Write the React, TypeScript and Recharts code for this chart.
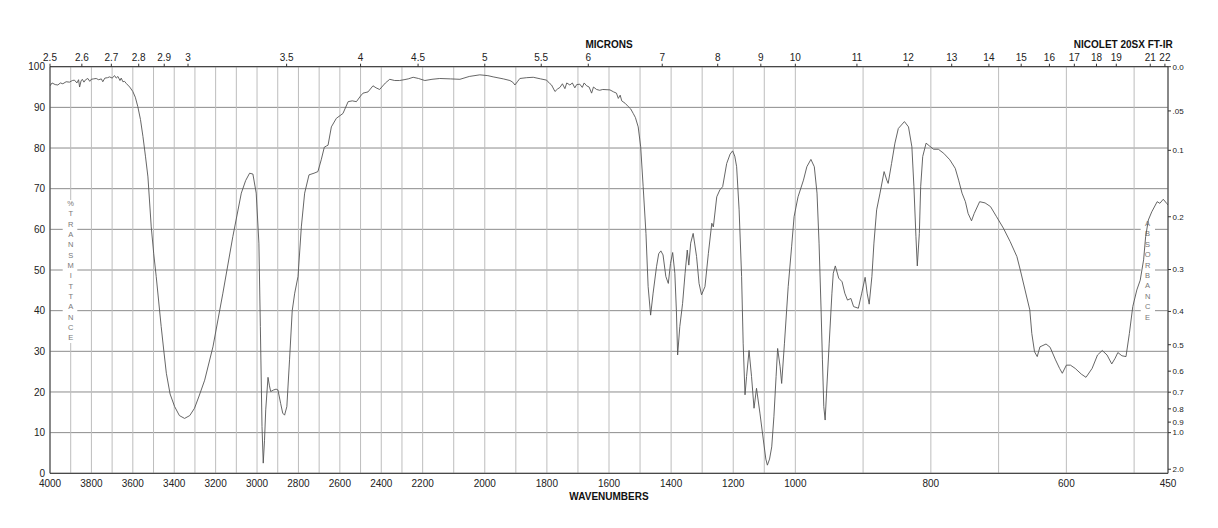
import React from 'react';
import { LineChart, Line, XAxis, YAxis, CartesianGrid, Customized } from 'recharts';

// Spectrum: wavenumber (cm-1) and % transmittance
const WAVENUMBERS = [
  4000, 3990, 3975, 3962, 3950, 3938, 3922, 3906, 3892, 3882, 3870, 3862, 3857, 3850, 3844, 3836, 3828, 3817, 3808, 3801,
  3790, 3777, 3765, 3752, 3745, 3735, 3722, 3712, 3700, 3688, 3680, 3672, 3662, 3656, 3648, 3640, 3632, 3615, 3600, 3588,
  3576, 3563, 3551, 3539, 3527, 3511, 3499, 3487, 3463, 3450, 3438, 3420, 3398, 3375, 3350, 3325, 3302, 3280, 3253, 3213,
  3165, 3117, 3076, 3055, 3036, 3020, 3004, 2991, 2984, 2976, 2970, 2964, 2958, 2947, 2940, 2934, 2920, 2908, 2899, 2886,
  2876, 2867, 2856, 2843, 2830, 2818, 2802, 2786, 2770, 2749, 2725, 2706, 2690, 2675, 2665, 2657, 2641, 2617, 2585, 2560,
  2540, 2520, 2500, 2488, 2464, 2440, 2425, 2408, 2380, 2359, 2335, 2311, 2290, 2270, 2246, 2220, 2193, 2170, 2145, 2110,
  2080, 2050, 2016, 1990, 1973, 1940, 1919, 1910, 1903, 1895, 1887, 1865, 1844, 1820, 1801, 1790, 1785, 1774, 1766, 1758,
  1750, 1742, 1736, 1726, 1718, 1710, 1704, 1694, 1686, 1680, 1672, 1664, 1656, 1650, 1640, 1630, 1620, 1597, 1585, 1576,
  1570, 1564, 1559, 1548, 1538, 1530, 1522, 1515, 1506, 1498, 1490, 1481, 1474, 1466, 1458, 1447, 1440, 1433, 1426, 1417,
  1409, 1402, 1395, 1388, 1383, 1379, 1372, 1363, 1355, 1348, 1343, 1337, 1329, 1318, 1310, 1302, 1291, 1280, 1269, 1264,
  1253, 1243, 1234, 1221, 1210, 1202, 1195, 1189, 1181, 1173, 1168, 1162, 1157, 1149, 1141, 1133, 1125, 1114, 1103, 1095,
  1090, 1083, 1076, 1069, 1062, 1057, 1049, 1044, 1035, 1023, 1012, 1004, 996, 988, 983, 977, 972, 968, 965, 962,
  960, 958, 956, 954, 950, 946, 944, 941, 936, 931, 927, 923, 918, 914, 907, 902, 897, 894, 891, 887,
  884, 880, 875, 869, 865, 863, 858, 853, 848, 839, 833, 828, 825, 822, 820, 817, 815, 812, 807, 802,
  796, 789, 781, 772, 764, 759, 754, 749, 745, 740, 736, 728, 720, 712, 703, 693, 683, 673, 668, 661,
  654, 651, 647, 643, 639, 630, 624, 616, 610, 606, 600, 594, 587, 578, 571, 562, 554, 547, 540, 533,
  528, 524, 518, 512, 507, 502, 496, 491, 486, 483, 479, 474, 466, 462, 457, 452, 450,
];
const TRANSMITTANCE = [
  95.3, 96.0, 95.6, 95.5, 96.0, 95.8, 96.3, 96.2, 96.6, 96.7, 96.0, 96.8, 95.0, 96.5, 96.9, 96.2, 96.8, 97.1, 96.4, 96.9,
  97.0, 97.1, 96.8, 97.0, 96.3, 97.2, 97.3, 97.5, 97.2, 97.8, 97.2, 97.6, 96.6, 97.2, 96.3, 96.4, 95.9, 95.0, 93.9, 92.5,
  90.2, 87.0, 82.8, 78.0, 72.9, 60.6, 54.0, 48.4, 36.1, 30.0, 24.6, 19.5, 16.4, 14.2, 13.5, 14.2, 16.0, 19.0, 22.9, 31.1,
  44.3, 58.2, 68.9, 72.0, 73.8, 73.6, 68.9, 56.6, 36.1, 11.5, 2.5, 8.0, 15.6, 23.6, 21.5, 20.1, 20.5, 20.7, 20.5, 17.2,
  14.8, 14.3, 16.4, 27.9, 40.0, 44.3, 48.4, 60.6, 68.9, 73.4, 73.8, 74.2, 77.1, 80.2, 80.5, 80.7, 85.2, 87.3, 88.5, 91.4,
  91.6, 91.4, 92.8, 93.5, 93.8, 95.3, 94.8, 94.4, 96.0, 96.9, 96.6, 96.6, 96.8, 97.0, 97.4, 97.1, 96.6, 96.9, 97.1, 97.0,
  96.9, 97.6, 98.0, 97.8, 97.5, 97.0, 96.6, 96.2, 95.5, 96.3, 97.1, 97.3, 97.4, 97.0, 96.7, 95.8, 95.5, 93.9, 94.5, 94.9,
  95.8, 94.6, 96.0, 95.5, 96.0, 94.8, 95.6, 95.7, 94.9, 96.0, 95.3, 95.0, 93.5, 95.0, 94.4, 94.2, 94.4, 94.3, 93.8, 93.5,
  92.2, 93.0, 91.6, 91.0, 90.2, 89.6, 88.5, 87.5, 85.2, 80.3, 70.5, 59.0, 45.9, 38.9, 44.3, 50.8, 54.0, 54.7, 53.7, 48.4,
  46.7, 51.6, 54.3, 49.2, 40.0, 29.1, 36.1, 41.8, 49.2, 54.9, 51.2, 56.6, 59.0, 53.3, 46.7, 43.9, 45.9, 54.1, 61.5, 60.6,
  68.0, 69.7, 70.5, 76.2, 78.5, 79.3, 78.0, 75.4, 64.8, 48.4, 32.0, 19.3, 23.8, 30.2, 23.8, 16.0, 20.9, 14.8, 8.2, 3.5,
  2.0, 3.5, 6.5, 13.9, 23.8, 30.7, 26.2, 22.1, 32.0, 45.9, 55.7, 63.1, 68.0, 72.1, 75.4, 77.2, 75.4, 68.9, 56.6, 40.2,
  27.9, 16.4, 13.1, 19.7, 32.0, 44.3, 49.2, 51.0, 48.0, 47.1, 44.3, 42.6, 43.0, 41.0, 40.6, 44.3, 48.2, 44.3, 41.6, 48.4,
  56.6, 64.8, 68.9, 74.2, 72.1, 71.3, 76.2, 81.2, 84.8, 86.5, 85.2, 80.3, 70.5, 58.2, 51.0, 59.0, 70.5, 77.9, 81.2, 80.5,
  79.7, 79.7, 78.7, 77.1, 75.0, 72.1, 68.9, 66.8, 63.9, 62.1, 63.9, 66.8, 66.5, 65.6, 63.1, 60.3, 57.0, 53.3, 50.0, 45.1,
  40.2, 34.4, 29.9, 28.7, 31.1, 31.8, 31.0, 27.9, 25.8, 24.6, 26.6, 26.6, 25.8, 24.4, 23.6, 25.8, 29.1, 30.2, 29.1, 26.9,
  28.3, 29.7, 28.9, 28.7, 34.4, 41.0, 45.1, 47.5, 52.5, 58.2, 62.3, 64.3, 66.8, 66.4, 67.4, 66.4, 66.0,
];

// Bottom axis: grid positions (cm-1) and labelled wavenumbers
const GRID_WAVENUMBERS = [
  4000, 3900, 3800, 3700, 3600, 3500, 3400, 3300, 3200, 3100, 3000, 2900, 2800, 2700, 2600, 2500, 2400, 2300, 2200,
  2100, 2000, 1900, 1800, 1700, 1600, 1500, 1400, 1300, 1200, 1100, 1000,
  900, 800, 700, 600, 500, 450,
];
const WAVENUMBER_LABELS = [
  4000, 3800, 3600, 3400, 3200, 3000, 2800, 2600, 2400, 2200, 2000, 1800, 1600, 1400, 1200, 1000, 800, 600, 450,
];
// Top axis: microns
const MICRON_LABELS = [
  '2.5', '2.6', '2.7', '2.8', '2.9', '3', '3.5', '4', '4.5', '5', '5.5', '6', '7', '8', '9', '10',
  '11', '12', '13', '14', '15', '16', '17', '18', '19', '21', '22',
];
// Left axis
const T_TICKS = [0, 10, 20, 30, 40, 50, 60, 70, 80, 90, 100];
// Right axis: absorbance
const ABS_VALUES = [0, 0.05, 0.1, 0.2, 0.3, 0.4, 0.5, 0.6, 0.7, 0.8, 0.9, 1.0, 2.0];
const ABS_LABELS = ['0.0', '.05', '0.1', '0.2', '0.3', '0.4', '0.5', '0.6', '0.7', '0.8', '0.9', '1.0', '2.0'];

// Piecewise-linear wavenumber axis (scale changes at 2200 and 1000 cm-1)
const pos = (wn: number) => {
  if (wn >= 2200) return (4000 - wn) / 1800;
  if (wn >= 1000) return 1 + (2200 - wn) / 1200;
  return 2 + (1000 - wn) / 550;
};
const wnOf = (p: number) => {
  if (p <= 1) return 4000 - 1800 * p;
  if (p <= 2) return 2200 - 1200 * (p - 1);
  return 1000 - 550 * (p - 2);
};

const data = WAVENUMBERS.map((w, i) => ({ x: pos(w), t: TRANSMITTANCE[i] }));
const bottomTicks = GRID_WAVENUMBERS.map(pos);
const micronTicks = MICRON_LABELS.map((m) => pos(10000 / parseFloat(m)));
const absTicks = ABS_VALUES.map((a) => 100 * Math.pow(10, -a));

const nearestIndex = (arr: number[], v: number) => {
  let best = 0;
  for (let i = 1; i < arr.length; i++) if (Math.abs(arr[i] - v) < Math.abs(arr[best] - v)) best = i;
  return best;
};

const FONT = '"Liberation Sans", Arial, Helvetica, sans-serif';
const tickStyle = { fill: '#222', fontSize: 10, fontFamily: FONT };

const Overlay = () => {
  const tLetters = '%TRANSMITTANCE'.split('');
  const aLetters = 'ABSORBANCE'.split('');
  return (
    <g fontFamily={FONT}>
      <rect x={54.7} y={192} width={14.6} height={143} fill="#fff" />
      {tLetters.map((c, i) => (
        <text key={'t' + i} x={62.7} y={195.3 + i * 10.33 + 2.7} textAnchor="middle" fontSize={7.5} fill="#777">
          {c}
        </text>
      ))}
      <rect x={1132.7} y={210} width={14.3} height={104} fill="#fff" />
      {aLetters.map((c, i) => (
        <text key={'a' + i} x={1139.6} y={215.3 + i * 10.4 + 2.7} textAnchor="middle" fontSize={7.5} fill="#777">
          {c}
        </text>
      ))}
      <text x={601} y={40.3} textAnchor="middle" fontSize={10} fontWeight="bold" fill="#111">MICRONS</text>
      <text x={1164.7} y={40.3} textAnchor="end" fontSize={10} fontWeight="bold" fill="#111">NICOLET 20SX FT-IR</text>
      <text x={601} y={491.5} textAnchor="middle" fontSize={10} fontWeight="bold" fill="#111">WAVENUMBERS</text>
    </g>
  );
};

export default function App() {
  return (
    <div style={{ width: 1202, height: 512, fontFamily: FONT }}>
      <LineChart width={1202} height={512} data={data} margin={{ top: 28.7, right: 12, bottom: 16.7, left: 0 }}>
        <CartesianGrid vertical={false} stroke="#8c8c8c" strokeWidth={1} />
        <CartesianGrid horizontal={false} stroke="#bdbdbd" strokeWidth={1} />
        <XAxis
          dataKey="x"
          type="number"
          domain={[0, 3]}
          allowDataOverflow
          ticks={bottomTicks}
          interval={0}
          height={30}
          tickSize={0}
          tickMargin={7}
          tickLine={false}
          axisLine={{ stroke: '#333' }}
          tick={tickStyle}
          tickFormatter={(v: number) => {
            const w = Math.round(wnOf(v));
            return WAVENUMBER_LABELS.includes(w) ? String(w) : '';
          }}
        />
        <XAxis
          xAxisId="top"
          orientation="top"
          dataKey="x"
          type="number"
          domain={[0, 3]}
          allowDataOverflow
          ticks={micronTicks}
          interval={0}
          height={30}
          tickSize={3}
          tickMargin={3}
          tickLine={{ stroke: '#333' }}
          axisLine={{ stroke: '#333' }}
          tick={tickStyle}
          tickFormatter={(v: number) => MICRON_LABELS[nearestIndex(micronTicks, v)]}
        />
        <YAxis
          type="number"
          domain={[0, 100]}
          allowDataOverflow
          ticks={T_TICKS}
          interval={0}
          width={42}
          tickSize={0}
          tickMargin={5}
          tickLine={false}
          axisLine={{ stroke: '#333' }}
          tick={tickStyle}
        />
        <YAxis
          yAxisId="right"
          orientation="right"
          type="number"
          domain={[0, 100]}
          allowDataOverflow
          ticks={absTicks}
          interval={0}
          width={30}
          tickSize={3}
          tickMargin={1.5}
          tickLine={{ stroke: '#333' }}
          axisLine={{ stroke: '#333' }}
          tick={{ fill: '#222', fontSize: 8, fontFamily: FONT }}
          tickFormatter={(v: number) => ABS_LABELS[nearestIndex(absTicks, v)]}
        />
        <Customized component={<Overlay />} />
        <Line
          type="linear"
          dataKey="t"
          stroke="#555"
          strokeWidth={0.9}
          dot={false}
          activeDot={false}
          isAnimationActive={false}
        />
      </LineChart>
    </div>
  );
}
